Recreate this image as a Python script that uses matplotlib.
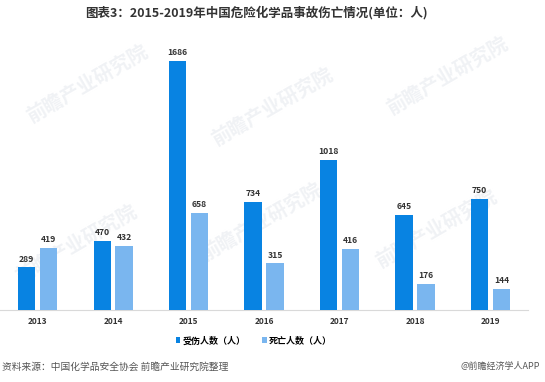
import numpy as np
import matplotlib
matplotlib.use("Agg")
import matplotlib.pyplot as plt

plt.rcParams['font.family'] = ['Noto Sans CJK SC', 'DejaVu Sans']

years = ['2013', '2014', '2015', '2016', '2017', '2018', '2019']
injured = [289, 470, 1686, 734, 1018, 645, 750]
deaths = [419, 432, 658, 315, 416, 176, 144]

title = '图表3：2015-2019年中国危险化学品事故伤亡情况(单位：人)'
legend_labels = ['受伤人数（人）', '死亡人数（人）']
source_text = '资料来源：中国化学品安全协会 前瞻产业研究院整理'
brand_text = '@前瞻经济学人APP'

dark = '#0883e2'
light = '#7ab6ef'

fig = plt.figure(figsize=(5.45, 3.82), dpi=100)
ax = fig.add_axes([0.0, 0.1885, 0.969, 0.70])

x = np.arange(len(years))
w = 0.23
off = 0.145
b1 = ax.bar(x - off, injured, w, color=dark, label=legend_labels[0], zorder=3)
b2 = ax.bar(x + off, deaths, w, color=light, label=legend_labels[1], zorder=3)

for bars in (b1, b2):
    for r in bars:
        ax.text(r.get_x() + r.get_width() / 2, r.get_height() + 25, str(int(r.get_height())),
                ha='center', va='bottom', fontsize=6.2, fontweight='bold', color='#333333', zorder=4)

ax.set_xlim(-0.5, len(years) - 0.5)
ax.set_ylim(0, 1810)
ax.set_xticks(x)
ax.set_xticklabels(years, fontsize=6, fontweight='bold', color='#333333')
ax.tick_params(axis='x', length=0, pad=5)
ax.set_yticks([])
for s in ['top', 'right', 'left']:
    ax.spines[s].set_visible(False)
ax.spines['bottom'].set_color('#d9d9d9')
ax.spines['bottom'].set_linewidth(0.8)

# faint watermarks behind the bars
for wx, wy in [(0.16, 0.78), (0.50, 0.72), (0.82, 0.80), (0.14, 0.36), (0.48, 0.42), (0.80, 0.40)]:
    ax.text(wx, wy, '前瞻产业研究院', fontsize=14, color='#f0f2f5', rotation=30,
            ha='center', va='center', fontweight='bold', zorder=1, transform=fig.transFigure)

fig.text(0.47, 0.968, title, ha='center', va='center', fontsize=9, fontweight='bold', color='#333333')

fig.legend(handles=[b1, b2], loc='center', bbox_to_anchor=(0.465, 0.108), ncol=2, frameon=False,
           handlelength=0.55, handleheight=0.55, handletextpad=0.2, columnspacing=1.8,
           prop={'weight': 'bold', 'size': 6.5})

fig.text(0.004, 0.04, source_text, ha='left', va='center', fontsize=7, color='#555555')
fig.text(0.99, 0.04, brand_text, ha='right', va='center', fontsize=6.5, color='#555555')

fig.savefig('out.png', dpi=100)
